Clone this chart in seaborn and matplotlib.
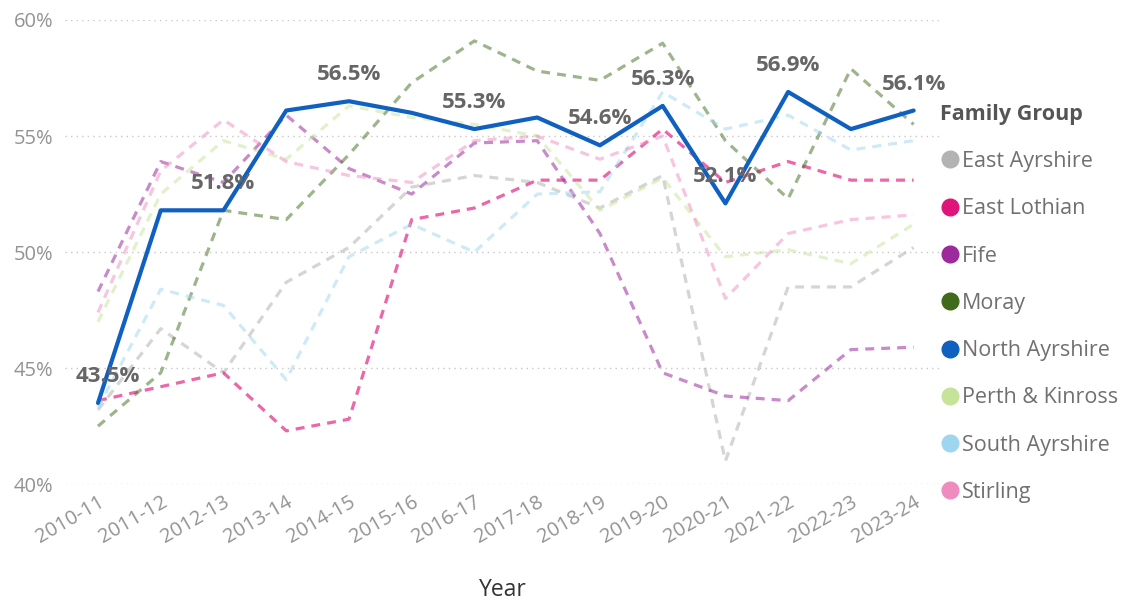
import matplotlib
matplotlib.use("Agg")
import matplotlib.pyplot as plt
from matplotlib.lines import Line2D
import seaborn as sns
import pandas as pd

years = ["2010-11", "2011-12", "2012-13", "2013-14", "2014-15", "2015-16", "2016-17",
         "2017-18", "2018-19", "2019-20", "2020-21", "2021-22", "2022-23", "2023-24"]

east_ayrshire = [43.2, 46.7, 44.8, 48.7, 50.2, 52.8, 53.3, 53.0, 51.9, 53.3, 41.0, 48.5, 48.5, 50.2]
east_lothian = [43.6, 44.2, 44.8, 42.3, 42.8, 51.4, 51.9, 53.1, 53.1, 55.3, 53.0, 53.9, 53.1, 53.1]
fife = [48.3, 53.9, 53.0, 55.9, 53.6, 52.5, 54.7, 54.8, 50.8, 44.8, 43.8, 43.6, 45.8, 45.9]
moray = [42.5, 44.8, 51.8, 51.4, 54.2, 57.3, 59.1, 57.8, 57.4, 59.0, 54.8, 52.3, 57.9, 55.5]
north_ayrshire = [43.5, 51.8, 51.8, 56.1, 56.5, 56.0, 55.3, 55.8, 54.6, 56.3, 52.1, 56.9, 55.3, 56.1]
perth_kinross = [47.0, 52.5, 54.8, 54.0, 56.3, 55.8, 55.5, 55.0, 51.8, 53.2, 49.8, 50.1, 49.5, 51.2]
south_ayrshire = [43.3, 48.4, 47.7, 44.5, 49.8, 51.2, 50.0, 52.5, 52.6, 56.9, 55.3, 55.9, 54.4, 54.8]
stirling = [47.4, 53.5, 55.7, 53.9, 53.3, 53.0, 54.8, 55.0, 54.0, 55.0, 48.0, 50.8, 51.4, 51.6]

# Years on which the North Ayrshire value is printed
labelled_years = ["2010-11", "2012-13", "2014-15", "2016-17", "2018-19",
                  "2019-20", "2020-21", "2021-22", "2023-24"]

groups = ["East Ayrshire", "East Lothian", "Fife", "Moray", "North Ayrshire",
          "Perth & Kinross", "South Ayrshire", "Stirling"]
series = [east_ayrshire, east_lothian, fife, moray, north_ayrshire,
          perth_kinross, south_ayrshire, stirling]
colors = ["#B3B3B3", "#E0157A", "#9C2A9C", "#3F6B1B", "#1060C0",
          "#C5E49A", "#9ED6F0", "#EE8CC0"]
alphas = [0.55, 0.65, 0.55, 0.5, 1.0, 0.5, 0.5, 0.5]

rows = []
for g, vals in zip(groups, series):
    for i, (y, v) in enumerate(zip(years, vals)):
        rows.append({"Year": y, "idx": i, "Family Group": g, "Value": v})
df = pd.DataFrame(rows)

sns.set_theme(style="white")
plt.rcParams["font.family"] = ["Open Sans", "DejaVu Sans"]

fig = plt.figure(figsize=(11.36, 6.06), dpi=100)
ax = fig.add_axes([0.057, 0.201, 0.771, 0.766])

# Comparator councils: faded dashed lines; North Ayrshire drawn last on top
order = [g for g in groups if g != "North Ayrshire"] + ["North Ayrshire"]
for g in order:
    k = groups.index(g)
    sub = df[df["Family Group"] == g]
    if g == "North Ayrshire":
        sns.lineplot(data=sub, x="idx", y="Value", ax=ax, color=colors[k],
                     linewidth=3.0, alpha=1.0, zorder=5, legend=False)
    else:
        sns.lineplot(data=sub, x="idx", y="Value", ax=ax, color=colors[k],
                     linewidth=2.3, alpha=alphas[k], zorder=3, legend=False)
        ax.lines[-1].set_linestyle((0, (2.8, 2.2)))

# Value labels for North Ayrshire
for y in labelled_years:
    i = years.index(y)
    v = north_ayrshire[i]
    dx = 7 if i == 0 else 0
    ax.annotate(f"{v:.1f}%", (i, v), xytext=(dx, 19), textcoords="offset points",
                ha="center", va="center", fontsize=16, fontweight="bold",
                color="#666666", zorder=6)

ax.set_xlim(-0.53, 13.43)
ax.set_ylim(40, 60)
ax.set_yticks([40, 45, 50, 55, 60])
ax.set_yticklabels([f"{t}%" for t in [40, 45, 50, 55, 60]])
ax.set_xticks(range(len(years)))
ax.set_xticklabels(years, rotation=30, ha="right", rotation_mode="anchor")
ax.tick_params(axis="both", length=0, labelsize=14.5, colors="#939393")
ax.tick_params(axis="x", pad=6)
ax.tick_params(axis="y", pad=8)
ax.grid(axis="y", linestyle=(0, (1, 3)), color="#C8C8C8", linewidth=1.0)
ax.grid(axis="x", visible=False)
for s in ax.spines.values():
    s.set_visible(False)
ax.set_xlabel("Year", fontsize=16.5, color="#333333", labelpad=22)
ax.set_ylabel("")

handles = [Line2D([0], [0], marker="o", linestyle="", markersize=12,
                  markerfacecolor=c, markeredgecolor=c) for c in colors]
leg = fig.legend(handles, groups, title="Family Group", loc="upper left",
                 bbox_to_anchor=(0.82, 0.843), frameon=False, fontsize=15.5,
                 title_fontsize=15.5, labelspacing=1.22, handletextpad=0.1,
                 handlelength=0.9, borderaxespad=0)
leg.get_title().set_fontweight("bold")
leg.get_title().set_color("#555555")
leg._legend_box.align = "left"
for t in leg.get_texts():
    t.set_color("#707070")

fig.savefig("out.png", dpi=100)
